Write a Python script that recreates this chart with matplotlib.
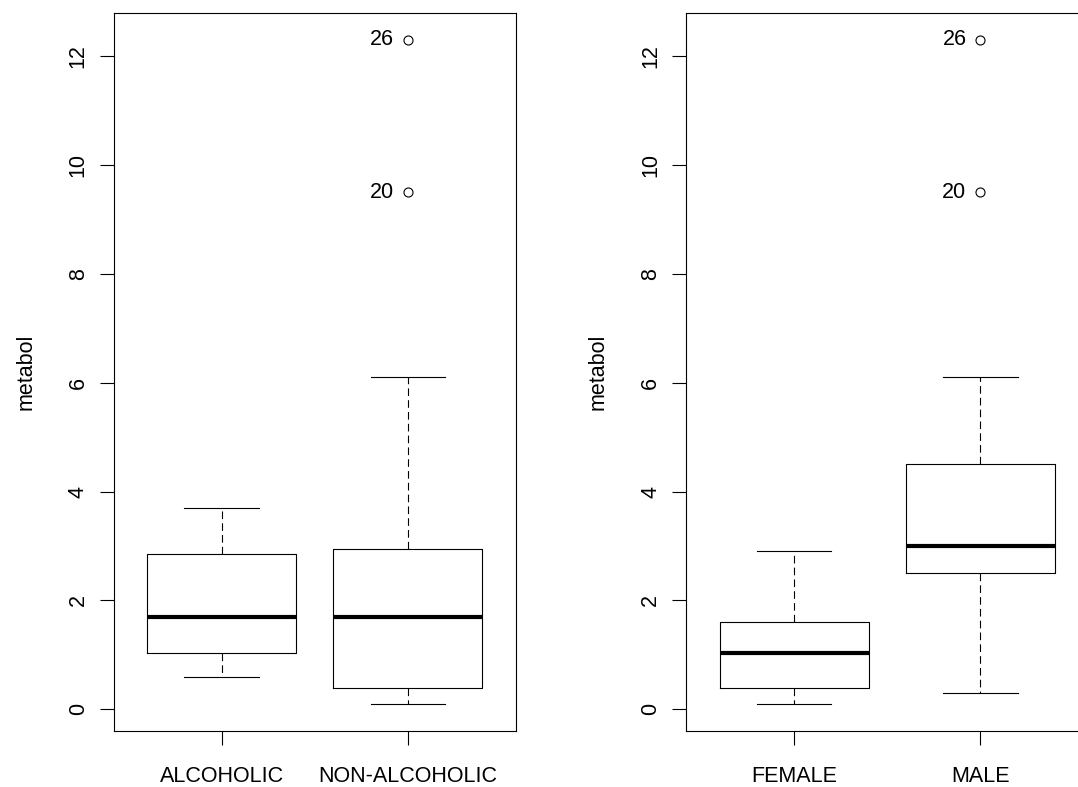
import matplotlib
matplotlib.use("Agg")
import matplotlib.pyplot as plt

# Summary statistics for metabol by group (whisker ends, quartiles, median)
drink_groups = ["ALCOHOLIC", "NON-ALCOHOLIC"]
drink_whislo = [0.6, 0.1]
drink_q1 = [1.04, 0.4]
drink_med = [1.7, 1.7]
drink_q3 = [2.85, 2.95]
drink_whishi = [3.7, 6.1]
drink_fliers = [[], [12.3, 9.5]]
drink_flier_ids = [[], ["26", "20"]]

sex_groups = ["FEMALE", "MALE"]
sex_whislo = [0.1, 0.3]
sex_q1 = [0.4, 2.5]
sex_med = [1.04, 3.0]
sex_q3 = [1.6, 4.5]
sex_whishi = [2.9, 6.1]
sex_fliers = [[], [12.3, 9.5]]
sex_flier_ids = [[], ["26", "20"]]

yticks = [0, 2, 4, 6, 8, 10, 12]

plt.rcParams['font.family'] = ['Liberation Sans', 'DejaVu Sans']
plt.rcParams['lines.scale_dashes'] = False

FS = 15.5
W, H = 1078, 787


def build_stats(groups, whislo, q1, med, q3, whishi, fliers):
    stats = []
    for i, name in enumerate(groups):
        stats.append(dict(label=name, whislo=whislo[i], q1=q1[i], med=med[i],
                          q3=q3[i], whishi=whishi[i], fliers=fliers[i]))
    return stats


def draw_panel(ax, groups, whislo, q1, med, q3, whishi, fliers, flier_ids):
    stats = build_stats(groups, whislo, q1, med, q3, whishi, fliers)
    ax.bxp(stats, positions=[1, 2], widths=0.8, capwidths=0.4,
           boxprops=dict(color='black', linewidth=0.8),
           medianprops=dict(color='black', linewidth=3.0, solid_capstyle='butt'),
           whiskerprops=dict(color='black', linewidth=0.8, linestyle=(0, (5.5, 3))),
           capprops=dict(color='black', linewidth=0.8),
           flierprops=dict(marker='o', markersize=6.5, markerfacecolor='none',
                           markeredgecolor='black', markeredgewidth=0.8, linestyle='none'))
    # label each outlier with its case number, left of the point
    for i, ids in enumerate(flier_ids):
        for val, lab in zip(fliers[i], ids):
            ax.annotate(lab, (i + 1, val), xytext=(-10, 0), textcoords='offset points',
                        ha='right', va='center', fontsize=FS)

    ax.set_xlim(0.42, 2.58)
    ax.set_ylim(-0.404, 12.80)
    ax.set_xticks([1, 2])
    ax.set_xticklabels(groups)
    ax.set_yticks(yticks)
    ax.set_yticklabels([str(t) for t in yticks], rotation=90, va='center')
    ax.tick_params(axis='both', direction='out', length=9.9, width=0.8,
                   labelsize=FS, color='black')
    ax.tick_params(axis='x', pad=15)
    ax.tick_params(axis='y', pad=8)
    for sp in ax.spines.values():
        sp.set_linewidth(0.8)
        sp.set_color('black')
    ax.set_ylabel("metabol", fontsize=FS)
    ax.yaxis.set_label_coords(-0.192, 0.5)


fig = plt.figure(figsize=(W / 100, H / 100), dpi=100)

ax_w = 402.3 / W
ax_h = (731.3 - 12.7) / H
ax_b = (H - 731.3) / H

ax1 = fig.add_axes([113.7 / W, ax_b, ax_w, ax_h])
draw_panel(ax1, drink_groups, drink_whislo, drink_q1, drink_med, drink_q3,
           drink_whishi, drink_fliers, drink_flier_ids)

# second panel runs slightly past the right edge of the canvas
ax2 = fig.add_axes([686.0 / W, ax_b, ax_w, ax_h])
draw_panel(ax2, sex_groups, sex_whislo, sex_q1, sex_med, sex_q3,
           sex_whishi, sex_fliers, sex_flier_ids)

fig.savefig("out.png", dpi=100)
